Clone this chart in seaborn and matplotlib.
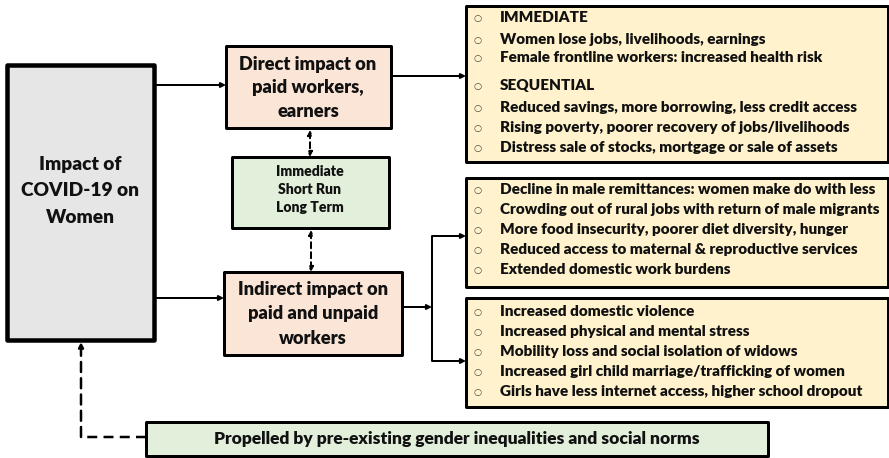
import matplotlib
matplotlib.use("Agg")
import matplotlib.pyplot as plt
import seaborn as sns
from matplotlib.patches import Rectangle

# ---- data (texts of the diagram) ----
main_label = ["Impact of", "COVID-19 on", "Women"]
direct_label = ["Direct impact on", "paid workers,", "earners"]
horizon_label = ["Immediate", "Short Run", "Long Term"]
indirect_label = ["Indirect impact on", "paid and unpaid", "workers"]
direct_items = [
    "IMMEDIATE",
    "Women lose jobs, livelihoods, earnings",
    "Female frontline workers: increased health risk",
    "SEQUENTIAL",
    "Reduced savings, more borrowing, less credit access",
    "Rising poverty, poorer recovery of jobs/livelihoods",
    "Distress sale of stocks, mortgage or sale of assets",
]
indirect_econ_items = [
    "Decline in male remittances: women make do with less",
    "Crowding out of rural jobs with return of male migrants",
    "More food insecurity, poorer diet diversity, hunger",
    "Reduced access to maternal & reproductive services",
    "Extended domestic work burdens",
]
indirect_social_items = [
    "Increased domestic violence",
    "Increased physical and mental stress",
    "Mobility loss and social isolation of widows",
    "Increased girl child marriage/trafficking of women",
    "Girls have less internet access, higher school dropout",
]
footer_label = "Propelled by pre-existing gender inequalities and social norms"

sns.set_theme(style="white")
plt.rcParams['font.family'] = ['Lato', 'DejaVu Sans']

W, H = 889, 458
fig = plt.figure(figsize=(W / 100, H / 100), dpi=100)
ax = fig.add_axes([0, 0, 1, 1])
ax.set_xlim(0, W)
ax.set_ylim(H, 0)
ax.axis('off')

PX = 0.72  # points per pixel at 100 dpi
WEIGHT = 'heavy'
TXT = '#111111'
renderer = fig.canvas.get_renderer()


def fit_size(text, target_px, base=10):
    t = ax.text(0, 0, text, fontsize=base, fontweight=WEIGHT)
    w = t.get_window_extent(renderer=renderer).width
    t.remove()
    return base * target_px / w


def box(x0, y0, x1, y1, fc, lw_px=3):
    ax.add_patch(Rectangle((x0, y0), x1 - x0, y1 - y0, facecolor=fc,
                           edgecolor='black', linewidth=lw_px * PX,
                           joinstyle='round', zorder=2))


def arrow(p0, p1, style='-|>', ls='-', lw_px=2):
    ax.annotate('', xy=p1, xytext=p0,
                arrowprops=dict(arrowstyle=style, color='black', lw=lw_px * PX,
                                linestyle=ls, mutation_scale=7,
                                shrinkA=0, shrinkB=0), zorder=3)


def line(xs, ys, ls='-', lw_px=2):
    ax.plot(xs, ys, color='black', lw=lw_px * PX, linestyle=ls,
            solid_capstyle='butt', zorder=3)


def centered_lines(lines, cx, cy, size, spacing):
    n = len(lines)
    for i, s in enumerate(lines):
        y = cy + (i - (n - 1) / 2) * spacing
        ax.text(cx, y, s, ha='center', va='center', fontsize=size,
                fontweight=WEIGHT, color=TXT, zorder=4)


def bullets(items, ys, size):
    for s, y in zip(items, ys):
        ax.text(478, y + 1, "○", ha='center', va='center', fontsize=size * 0.62,
                color='#444444', family=['DejaVu Sans'], zorder=4)
        ax.text(500, y, s, ha='left', va='center', fontsize=size,
                fontweight=WEIGHT, color=TXT, zorder=4)


# ---- boxes ----
box(7, 65, 154, 340, '#e7e6e6', lw_px=4.5)
box(226, 46, 391, 128, '#fbe5d6', lw_px=3)
box(232, 157, 389, 228, '#e2efda', lw_px=3)
box(224, 272, 402, 355, '#fbe5d6', lw_px=3)
box(466, 6, 888, 162, '#fff2cc', lw_px=3)
box(466, 178, 888, 287, '#fff2cc', lw_px=3)
box(466, 298, 888, 407, '#fff2cc', lw_px=3)
box(146, 422, 768, 456, '#e2efda', lw_px=3)

# ---- text ----
big = fit_size("COVID-19 on", 118)
centered_lines(main_label, 80, 191, big, 26.5)
mid = fit_size("Indirect impact on", 150)
centered_lines(direct_label, 308, 88, mid, 23.5)
centered_lines(indirect_label, 313, 314, mid, 24)
small = fit_size("Immediate", 68)
centered_lines(horizon_label, 310, 190, small, 18)
item = fit_size("Crowding out of rural jobs with return of male migrants", 380)
bullets(direct_items, [18, 39, 58, 86, 107, 127, 147], item)
bullets(indirect_econ_items, [189, 209, 229, 249, 269], item)
bullets(indirect_social_items, [311, 331, 351, 371, 391], item)
foot = fit_size(footer_label, 487)
ax.text(457, 439, footer_label, ha='center', va='center', fontsize=foot,
        fontweight=WEIGHT, color=TXT, zorder=4)

# ---- connectors ----
arrow((156, 85), (226, 85))
arrow((156, 298), (224, 298))
arrow((391, 76), (466, 76))
arrow((402, 307), (432, 307))
line([432, 432], [236, 361])
arrow((432, 236), (466, 236))
arrow((432, 361), (466, 361))
arrow((310, 130), (310, 157), style='<|-|>', ls=(0, (3, 2)))
arrow((311, 230), (311, 272), style='<|-|>', ls=(0, (3, 2)))
line([146, 81], [437, 437], ls=(0, (4, 2.5)), lw_px=2.5)
arrow((81, 437), (81, 342), ls=(0, (4, 2.5)), lw_px=2.5)

fig.savefig("out.png", dpi=100)
